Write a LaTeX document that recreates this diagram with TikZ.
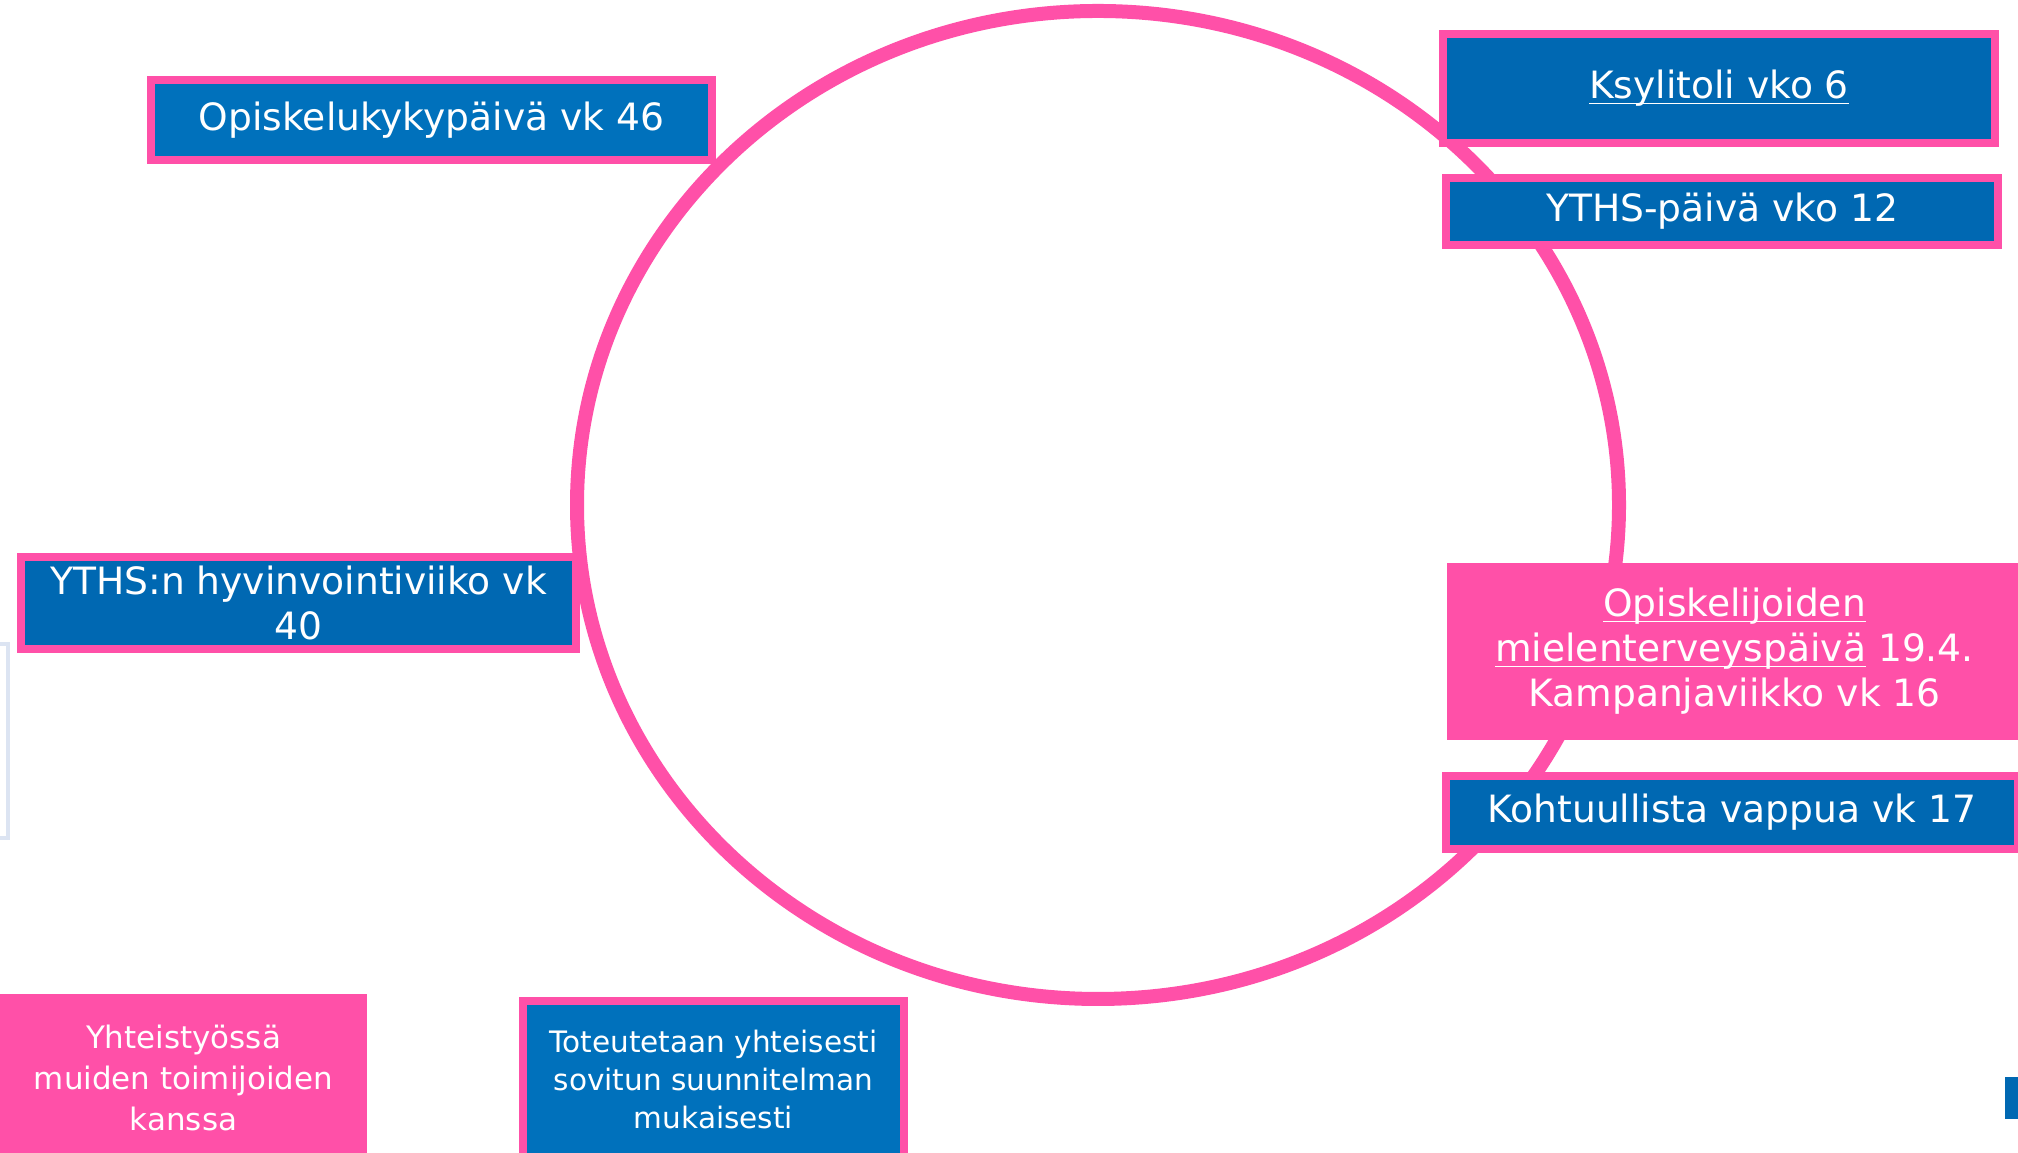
\documentclass[tikz,border=0pt]{standalone}
\usepackage{fontspec}
\setmainfont{DejaVu Sans}
\definecolor{rosa}{HTML}{FF50A8}
\definecolor{sininen}{HTML}{0068B2}
\definecolor{vaalea}{HTML}{0071BC}
\definecolor{harmaa}{HTML}{DCE4F2}
\tikzset{
  bluebox/.style={draw=rosa, line width=0.08cm, fill=sininen, text=white, align=center, inner sep=0pt},
  pinkbox/.style={fill=rosa, text=white, align=center, inner sep=0pt},
  ring/.style={draw=rosa, line width=0.14cm}
}
\newcommand{\isoteksti}{\fontsize{10.7}{12.8}\selectfont}
\newcommand{\pieniteksti}{\fontsize{8.8}{11.8}\selectfont}
\newcommand{\alle}[1]{\setbox0\hbox{#1}\rlap{\rule[-1.6pt]{\wd0}{0.5pt}}\box0\relax}
\begin{document}
\begin{tikzpicture}
                \useasboundingbox (0,0) rectangle (20.18,11.53);
                \clip (0,0) rectangle (20.18,11.53);
                \draw[ring] (10.98,6.48) ellipse [x radius=5.21, y radius=4.94];
                \draw[harmaa, line width=0.04cm] (-0.05,3.15) rectangle (0.08,5.09);
                \fill[sininen] (20.05,0.34) rectangle (20.25,0.76);
                \node[bluebox, fill=vaalea, minimum width=5.61cm, minimum height=0.80cm, font=\isoteksti] (opiskelukyky) at (4.315,10.33) {Opiskelukykypäivä vk 46};
                \node[bluebox, minimum width=5.52cm, minimum height=1.09cm, font=\isoteksti] (ksylitoli) at (17.19,10.645) {\alle{Ksylitoli vko 6}};
                \node[bluebox, minimum width=5.52cm, minimum height=0.67cm, font=\isoteksti] (ythspaiva) at (17.22,9.415) {YTHS-päivä vko 12};
                \node[bluebox, minimum width=5.55cm, minimum height=0.92cm, font=\isoteksti] (hyvinvointi) at (2.985,5.50) {YTHS:n hyvinvointiviiko vk\\40};
                \node[pinkbox, minimum width=5.75cm, minimum height=1.77cm, font=\isoteksti] (mielenterveys) at (17.345,5.015) {\alle{Opiskelijoiden}\\\alle{mielenterveyspäivä} 19.4.\\Kampanjaviikko vk 16};
                \node[bluebox, minimum width=5.72cm, minimum height=0.73cm, font=\isoteksti] (vappu) at (17.32,3.405) {Kohtuullista vappua vk 17};
                \node[pinkbox, minimum width=3.67cm, minimum height=1.68cm, font=\pieniteksti] (yhteistyo) at (1.835,0.75) {Yhteistyössä\\muiden toimijoiden\\kanssa};
                \node[bluebox, fill=vaalea, minimum width=3.81cm, minimum height=1.57cm, font={\fontsize{8.4}{10.7}\selectfont}] (suunnitelma) at (7.135,0.735) {Toteutetaan yhteisesti\\sovitun suunnitelman\\mukaisesti};
            \end{tikzpicture}
\end{document}
